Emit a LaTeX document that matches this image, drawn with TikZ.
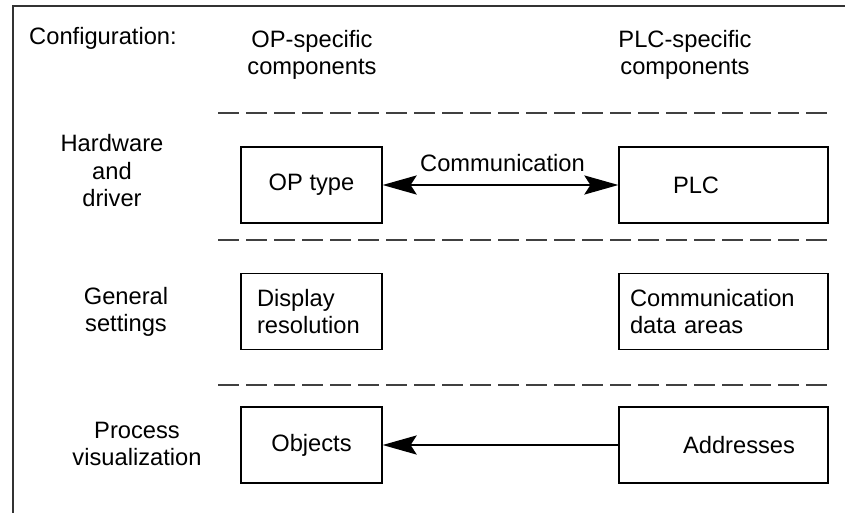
\documentclass[tikz,border=0pt]{standalone}
\usepackage{fontspec}
\setmainfont{Liberation Sans}
\usepackage{tikz}
\usetikzlibrary{positioning,arrows.meta}
\tikzset{
    comp box/.style={
        draw,line width=1.2pt,
        minimum height=76pt,
        inner sep=0pt,
    },
    op box/.style={comp box,minimum width=141pt},
    plc box/.style={comp box,minimum width=209pt},
    row label/.style={align=center,inner sep=0pt},
    level line/.style={draw=black!75,line width=1.2pt,dash pattern=on 21pt off 7pt},
    >={Stealth[length=34pt,width=19pt,inset=6pt]},
}
\tikzstyle{arrow} = [line width=2.6pt,->]
\begin{document}
\begin{tikzpicture}[x=1pt,y=-1pt,font=\fontsize{23.7}{27.5}\selectfont]
    \useasboundingbox (0,0) rectangle (845,512);
    \draw[line width=1.5pt,black!80] (13,520) |- (850,6);
    \foreach \y in {113,240,385}
    \draw[level line] (218,\y) -- (833,\y);

    \node[inner sep=0pt] (config) at (103,38) {Configuration:};
    \node[row label] (opcol) at (312,55) {OP-specific\\components};
    \node[row label] (plccol) at (685,55) {PLC-specific\\components};

    \node[row label] (hw) at (112,171) {Hardware\\and\\driver};
    \node[row label] (gen) at (126,312) {General\\settings};
    \node[row label] (proc) at (137,444) {Process\\visualization};

    \node[op box] (optype) at (311.5,185) {OP type};
    \node[plc box,text width=101pt,align=left] (plc) at (723.5,185) {PLC};
    \node[op box,text width=109pt,align=left] (display) at (311.5,311.5) {Display\\resolution};
    \node[plc box,text width=187pt,align=left] (dataareas) at (723.5,311.5) {Communication\\data areas};
    \node[op box] (objects) at (311.5,445) {Objects};
    \node[plc box,text width=143pt,align=right] (addresses) at (723.5,445) {Addresses};

    \draw[arrow,<->] (optype) -- node[above=12pt,xshift=2pt,inner sep=0pt] (comm) {Communication} (plc);
    \draw[arrow] (addresses) -- (objects);
\end{tikzpicture}
\end{document}
